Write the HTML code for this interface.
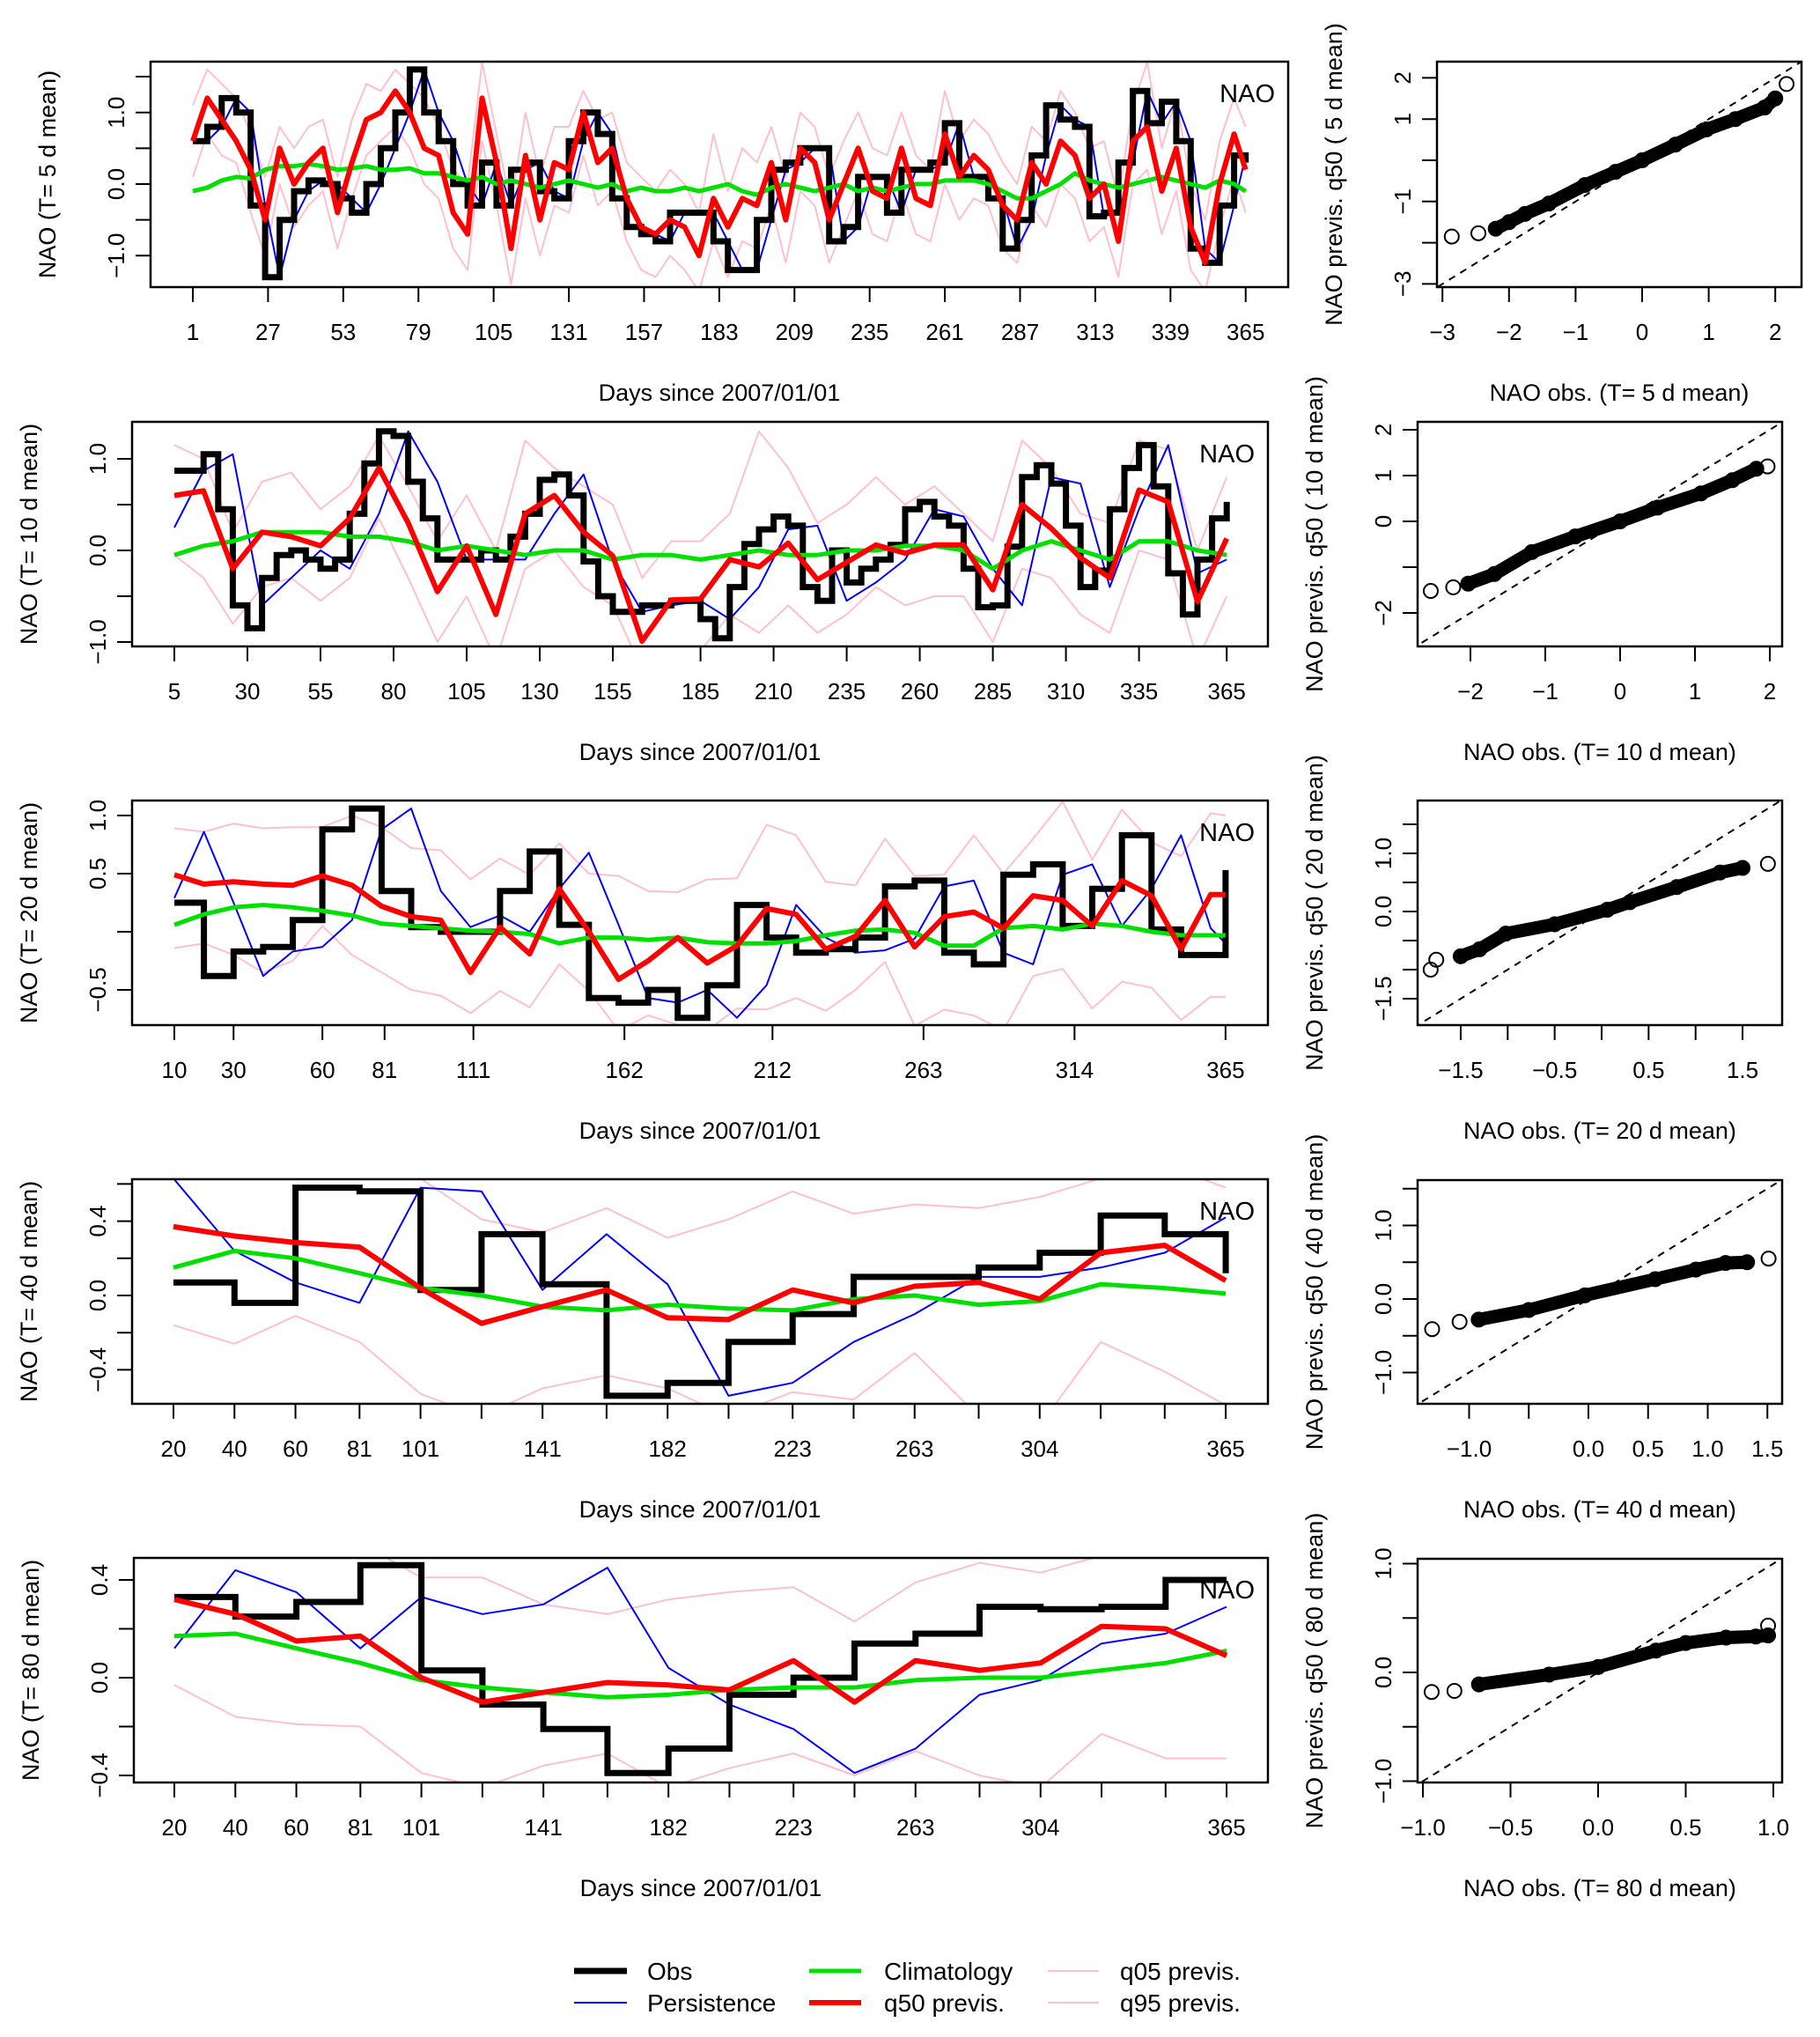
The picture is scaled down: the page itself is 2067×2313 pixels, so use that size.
<!DOCTYPE html>
<html><head><meta charset="utf-8"><style>
html,body{margin:0;padding:0;background:#fff;}
svg{display:block;font-family:"Liberation Sans",Arial,sans-serif;}
</style></head><body>
<svg id="fig" xmlns="http://www.w3.org/2000/svg" width="2067" height="2313" viewBox="0 0 2067 2313">
<rect width="2067" height="2313" fill="#fff"/>
<g>
<line x1="652" y1="2238" x2="712" y2="2238" stroke="#000" stroke-width="7"/>
<text x="735" y="2248" font-size="28">Obs</text>
<line x1="652" y1="2274" x2="712" y2="2274" stroke="#0000ff" stroke-width="2"/>
<text x="735" y="2284" font-size="28">Persistence</text>
<line x1="919" y1="2238" x2="978" y2="2238" stroke="#00e000" stroke-width="5"/>
<text x="1004" y="2248" font-size="28">Climatology</text>
<line x1="919" y1="2274" x2="978" y2="2274" stroke="#ff0000" stroke-width="6"/>
<text x="1004" y="2284" font-size="28">q50 previs.</text>
<line x1="1190" y1="2238" x2="1248" y2="2238" stroke="#ffc0cb" stroke-width="2"/>
<text x="1272" y="2248" font-size="28">q05 previs.</text>
<line x1="1190" y1="2274" x2="1248" y2="2274" stroke="#ffc0cb" stroke-width="2"/>
<text x="1272" y="2284" font-size="28">q95 previs.</text>
</g>
</svg>
<script>
// ---------- Panel 1 (T=5) ----------
const days1=[1,6,11,16,21,26,31,36,41,46,51,56,61,66,71,76,81,86,91,96,101,106,111,116,121,126,131,136,141,146,151,156,161,166,171,176,181,186,191,196,201,206,211,216,221,226,231,236,241,246,251,256,261,266,271,276,281,286,291,296,301,306,311,316,321,326,331,336,341,346,351,356,361,365];
const obs1=[0.6,0.8,1.2,1.0,-0.3,-1.3,-0.5,-0.1,0.05,0.0,-0.2,-0.4,0.0,0.5,1.0,1.6,1.0,0.6,0.0,-0.3,0.3,-0.3,0.2,0.3,-0.1,-0.2,0.6,1.0,0.7,-0.2,-0.6,-0.7,-0.8,-0.4,-0.4,-0.4,-0.8,-1.2,-1.2,-0.5,0.2,0.3,0.5,0.5,-0.8,-0.6,0.1,0.1,-0.4,0.2,0.2,0.3,0.85,0.1,0.1,-0.2,-0.9,-0.5,0.4,1.1,0.9,0.8,-0.45,-0.4,0.3,1.3,0.85,1.15,0.6,-0.9,-1.1,-0.3,0.4,0.3];
const pers1=[0.6,0.6,0.8,1.2,1.0,-0.3,-1.3,-0.5,-0.1,0.05,0.0,-0.2,-0.4,0.0,0.5,1.0,1.6,1.0,0.6,0.0,-0.3,0.3,-0.3,0.2,0.3,-0.1,-0.2,0.6,1.0,0.7,-0.2,-0.6,-0.7,-0.8,-0.4,-0.4,-0.4,-0.8,-1.2,-1.2,-0.5,0.2,0.3,0.5,0.5,-0.8,-0.6,0.1,0.1,-0.4,0.2,0.2,0.3,0.85,0.1,0.1,-0.2,-0.9,-0.5,0.4,1.1,0.9,0.8,-0.45,-0.4,0.3,1.3,0.85,1.15,0.6,-0.9,-1.1,-0.3,0.4];
const clim1=[-0.1,-0.05,0.05,0.1,0.08,0.2,0.25,0.25,0.28,0.25,0.2,0.22,0.25,0.2,0.2,0.22,0.15,0.15,0.1,0.05,0.1,0.0,0.05,0.0,-0.05,0.0,0.05,0.0,-0.05,0.0,-0.1,-0.05,-0.1,-0.1,-0.05,-0.1,-0.05,0.0,-0.1,-0.15,-0.05,0.0,-0.05,-0.1,-0.05,0.0,-0.1,-0.05,-0.1,-0.05,0.0,0.0,0.05,0.05,0.05,0.0,-0.1,-0.2,-0.2,-0.1,0.0,0.15,0.05,0.0,-0.05,0.0,0.05,0.1,0.05,0.0,-0.05,0.05,0.0,-0.1];
const q50_1=[0.6,1.2,0.9,0.6,0.2,-0.5,0.5,0.0,0.3,0.5,-0.4,0.3,0.9,1.0,1.3,1.0,0.5,0.4,-0.4,-0.7,1.2,0.3,-0.9,0.4,-0.5,0.3,0.2,1.0,0.3,0.5,-0.2,-0.6,-0.7,-0.5,-0.6,-1.0,-0.2,-0.6,-0.2,-0.3,0.3,-0.5,0.5,0.3,-0.5,0.0,0.5,-0.1,-0.2,0.5,-0.2,-0.3,0.7,0.1,0.4,0.2,-0.3,-0.5,0.3,0.0,0.6,0.4,-0.2,0.0,-0.8,0.6,0.8,-0.1,0.5,-0.6,-1.1,0.0,0.7,0.2];
const q95_1=[1.1,1.6,1.4,1.2,0.7,0.1,0.8,0.5,0.8,0.9,0.1,0.9,1.4,1.3,1.6,1.4,1.2,0.8,0.2,0.0,1.7,0.7,-0.3,1.0,0.1,0.8,0.8,1.3,0.9,1.0,0.3,0.1,-0.1,0.2,0.0,-0.4,0.7,-0.1,0.5,0.3,0.8,0.1,1.0,0.8,0.1,0.6,1.0,0.5,0.4,1.0,0.4,0.2,1.3,0.6,0.9,0.7,0.3,0.0,0.8,0.6,1.3,1.0,0.5,0.6,-0.2,1.1,1.7,0.5,1.2,0.0,-0.5,0.6,1.2,0.8];
const q05_1=[0.1,0.7,0.4,0.3,-0.4,-1.0,0.0,-0.6,-0.3,-0.1,-0.9,-0.2,0.4,0.6,0.8,0.5,0.0,-0.2,-0.9,-1.2,0.6,-0.3,-1.4,-0.2,-1.0,-0.3,-0.4,0.4,-0.3,-0.1,-0.8,-1.2,-1.3,-1.0,-1.2,-1.5,-0.8,-1.3,-0.8,-0.9,-0.3,-1.1,-0.1,-0.3,-1.1,-0.6,-0.1,-0.7,-0.8,-0.1,-0.7,-0.8,0.0,-0.5,-0.2,-0.3,-0.9,-1.1,-0.3,-0.6,0.0,-0.2,-0.8,-0.6,-1.3,0.0,0.2,-0.7,-0.1,-1.2,-1.5,-0.6,0.1,-0.4];
const xt1=[1,27,53,79,105,131,157,183,209,235,261,287,313,339,365];
// ---------- Panel 2 (T=10) ----------
const daysObs2=[5,10,15,20,25,30,35,40,45,50,55,60,65,70,75,80,85,90,95,100,105,110,115,120,125,130,135,140,145,150,155,160,165,170,175,180,185,190,195,200,205,210,215,220,225,230,235,240,245,250,255,260,265,270,275,280,285,290,295,300,305,310,315,320,325,330,335,340,345,350,355,360,365];
const obs2=[0.87,0.87,1.05,0.45,-0.6,-0.85,-0.3,-0.05,0.0,-0.1,-0.2,-0.1,0.4,0.95,1.3,1.25,0.75,0.35,-0.1,-0.1,-0.1,0.0,-0.1,0.15,0.4,0.77,0.83,0.6,-0.12,-0.5,-0.67,-0.67,-0.6,-0.6,-0.55,-0.55,-0.75,-0.96,-0.4,0.07,0.23,0.37,0.27,-0.4,-0.55,0.0,-0.35,-0.2,-0.1,0.06,0.45,0.53,0.37,0.27,-0.2,-0.62,-0.6,0.04,0.8,0.93,0.73,0.27,-0.4,-0.22,0.45,0.9,1.15,0.7,-0.25,-0.7,-0.1,0.35,0.53];
const days2=[5,15,25,35,45,55,65,75,85,95,105,115,125,135,145,155,165,175,185,195,205,215,225,235,245,255,265,275,285,295,305,315,325,335,345,355,365];
const pers2=[0.25,0.87,1.05,-0.6,-0.3,0.0,-0.2,0.4,1.3,0.75,-0.1,-0.1,-0.1,0.4,0.83,-0.12,-0.67,-0.6,-0.55,-0.75,-0.4,0.23,0.27,-0.55,-0.35,-0.1,0.45,0.37,-0.2,-0.6,0.8,0.73,-0.4,0.45,1.15,-0.25,-0.1];
const clim2=[-0.05,0.05,0.1,0.2,0.2,0.2,0.15,0.15,0.1,0.0,0.05,0.0,-0.05,0.0,0.0,-0.1,-0.05,-0.05,-0.1,-0.05,0.0,-0.05,-0.05,0.0,0.0,0.05,0.05,0.0,-0.2,0.0,0.1,0.0,-0.1,0.1,0.1,0.0,-0.05];
const q50_2=[0.6,0.65,-0.2,0.2,0.15,0.05,0.35,0.9,0.3,-0.45,0.05,-0.7,0.4,0.6,0.2,-0.06,-0.99,-0.54,-0.53,-0.1,-0.18,0.08,-0.32,-0.13,0.06,-0.03,0.06,0.06,-0.43,0.5,0.24,-0.08,-0.3,0.66,0.53,-0.56,0.13];
const q95_2=[1.15,1.0,0.2,0.75,0.85,0.45,0.7,1.25,0.7,0.1,0.6,0.0,1.2,0.9,0.7,0.5,-0.3,0.1,0.1,0.4,1.3,0.9,0.3,0.5,0.8,0.5,0.7,0.4,0.1,1.2,0.9,0.4,0.3,1.2,1.1,0.0,0.8];
const q05_2=[-0.05,-0.3,-0.8,-0.4,-0.3,-0.55,-0.3,0.35,-0.3,-1.0,-0.5,-1.2,-0.2,0.0,-0.4,-0.6,-1.3,-1.1,-1.1,-0.7,-0.9,-0.6,-0.9,-0.7,-0.4,-0.6,-0.5,-0.5,-1.0,-0.2,-0.3,-0.7,-0.9,0.0,-0.1,-1.2,-0.5];
const xt2=[5,30,55,80,105,130,155,185,210,235,260,285,310,335,365];
// ---------- Panel 3 (T=20) ----------
const days3=[10,20,30,40,50,60,70,80,90,100,110,120,130,140,150,160,170,180,190,200,210,220,230,240,250,260,270,280,290,300,310,320,330,340,350,360,365];
const obs3=[0.25,-0.38,-0.17,-0.13,0.1,0.88,1.06,0.35,0.04,0.0,0.0,0.35,0.69,0.06,-0.57,-0.61,-0.5,-0.74,-0.46,0.23,-0.05,-0.18,-0.15,-0.05,0.39,0.44,-0.18,-0.28,0.49,0.58,0.05,0.37,0.83,0.02,-0.2,-0.2,0.53];
const pers3=[0.29,0.86,0.25,-0.38,-0.17,-0.13,0.1,0.88,1.06,0.35,0.04,0.14,0.0,0.37,0.68,0.06,-0.57,-0.61,-0.5,-0.74,-0.46,0.23,-0.05,-0.18,-0.16,-0.06,0.39,0.44,-0.18,-0.28,0.49,0.58,0.05,0.37,0.83,0.03,-0.1];
const clim3=[0.06,0.15,0.21,0.23,0.21,0.18,0.14,0.07,0.05,0.03,0.01,0.0,-0.02,-0.1,-0.05,-0.05,-0.07,-0.05,-0.09,-0.1,-0.1,-0.08,-0.03,0.01,0.02,-0.01,-0.12,-0.12,0.03,0.05,0.02,0.07,0.05,0.0,-0.03,-0.03,-0.03];
const q50_3=[0.49,0.41,0.43,0.41,0.4,0.48,0.4,0.22,0.13,0.1,-0.35,0.04,-0.19,0.37,0.0,-0.41,-0.25,-0.05,-0.27,-0.12,0.2,0.15,-0.15,-0.04,0.27,-0.13,0.13,0.17,0.03,0.31,0.27,0.05,0.44,0.31,-0.15,0.32,0.32];
const q95_3=[0.89,0.86,0.93,0.89,0.9,0.9,1.0,0.9,0.72,0.7,0.45,0.63,0.49,0.76,0.5,0.48,0.35,0.34,0.45,0.46,0.92,0.83,0.43,0.4,0.8,0.48,0.49,0.83,0.5,0.8,1.12,0.62,1.05,0.77,0.65,1.02,1.0];
const q05_3=[-0.14,-0.1,-0.2,-0.35,-0.25,0.05,-0.2,-0.35,-0.5,-0.55,-0.7,-0.51,-0.65,-0.28,-0.51,-0.85,-0.72,-0.8,-0.85,-0.66,-0.67,-0.57,-0.68,-0.5,-0.26,-0.81,-0.67,-0.72,-0.85,-0.38,-0.32,-0.66,-0.43,-0.48,-0.76,-0.56,-0.56];
const xt3=[10,30,60,81,111,162,212,263,314,365];
// ---------- Panels 4,5 (T=40, T=80) ----------
const days45=[20,40,60,81,101,121,141,162,182,202,223,243,263,284,304,324,345,365];
const xt45=[20,40,60,81,101,141,182,223,263,304,365];
const obs4=[0.07,-0.04,0.58,0.56,0.03,0.33,0.06,-0.54,-0.47,-0.25,-0.1,0.1,0.1,0.15,0.23,0.43,0.33,0.12];
const pers4=[0.63,0.24,0.07,-0.04,0.58,0.56,0.03,0.33,0.06,-0.54,-0.47,-0.25,-0.1,0.1,0.1,0.15,0.23,0.42];
const clim4=[0.15,0.24,0.2,0.12,0.04,0.0,-0.06,-0.08,-0.05,-0.07,-0.08,-0.02,0.0,-0.05,-0.03,0.06,0.04,0.01];
const q50_4=[0.37,0.32,0.285,0.26,0.04,-0.15,-0.06,0.03,-0.12,-0.13,0.03,-0.04,0.05,0.07,-0.02,0.23,0.27,0.08];
const q95_4=[0.75,0.75,0.72,0.7,0.63,0.41,0.34,0.47,0.31,0.41,0.56,0.44,0.49,0.47,0.53,0.63,0.7,0.58];
const q05_4=[-0.16,-0.26,-0.11,-0.25,-0.53,-0.65,-0.5,-0.43,-0.5,-0.65,-0.52,-0.56,-0.31,-0.65,-0.7,-0.25,-0.41,-0.59];
const obs5=[0.33,0.25,0.31,0.46,0.03,-0.11,-0.21,-0.39,-0.29,-0.07,0.0,0.14,0.18,0.29,0.28,0.29,0.4,0.4];
const pers5=[0.12,0.44,0.35,0.12,0.33,0.26,0.3,0.45,0.04,-0.11,-0.21,-0.39,-0.29,-0.07,-0.01,0.14,0.18,0.29];
const clim5=[0.17,0.18,0.12,0.06,-0.01,-0.04,-0.06,-0.08,-0.07,-0.05,-0.04,-0.04,-0.01,0.0,0.0,0.03,0.06,0.11];
const q50_5=[0.32,0.26,0.15,0.17,0.0,-0.1,-0.06,-0.02,-0.03,-0.05,0.07,-0.1,0.07,0.03,0.06,0.21,0.2,0.09];
const q95_5=[0.55,0.55,0.55,0.55,0.41,0.41,0.3,0.26,0.32,0.35,0.37,0.23,0.39,0.47,0.43,0.5,0.55,0.55];
const q05_5=[-0.03,-0.16,-0.19,-0.2,-0.39,-0.45,-0.36,-0.31,-0.45,-0.37,-0.31,-0.4,-0.3,-0.4,-0.45,-0.23,-0.33,-0.33];
// ---------- Scatter (QQ) panels ----------
const sObs1=[-2.86,-2.46,-2.2,-2.0,-1.76,-1.4,-0.86,-0.4,0,0.5,0.97,1.4,1.84,2.0,2.17];
const sPred1=[-1.85,-1.77,-1.66,-1.5,-1.3,-1.05,-0.6,-0.28,0,0.38,0.75,1.0,1.28,1.5,1.85];
const sObs2=[-2.53,-2.23,-2.03,-1.68,-1.18,-0.6,0,0.5,1.08,1.5,1.82,1.97];
const sPred2=[-1.52,-1.44,-1.36,-1.15,-0.67,-0.33,0,0.3,0.61,0.9,1.15,1.2];
const sObs3=[-1.82,-1.76,-1.5,-1.3,-1.02,-0.5,0.06,0.3,0.8,1.26,1.5,1.77];
const sPred3=[-1.0,-0.83,-0.77,-0.65,-0.38,-0.22,0.03,0.16,0.42,0.67,0.75,0.82];
const sObs4=[-1.31,-1.08,-0.92,-0.5,-0.03,0.56,0.9,1.15,1.33,1.51];
const sPred4=[-0.41,-0.31,-0.28,-0.15,0.05,0.27,0.4,0.49,0.5,0.55];
const sObs5=[-0.95,-0.82,-0.68,-0.28,0.0,0.33,0.5,0.73,0.9,0.97,0.97];
const sPred5=[-0.18,-0.17,-0.11,-0.02,0.05,0.2,0.27,0.32,0.33,0.34,0.43];

const NS='http://www.w3.org/2000/svg';
const svg=document.getElementById('fig');
function mk(tag,attrs,parent){const e=document.createElementNS(NS,tag);for(const k in attrs)e.setAttribute(k,attrs[k]);(parent||svg).appendChild(e);return e;}

const mains=[
 {T:5,box:[171,1463,70,326],d0:1,x0:219,kd:3.285,y0:209,ky:81.3,yt:[-1,-0.5,0,0.5,1,1.5],yl:{'-1':'−1.0','0':'0.0','1':'1.0'},xt:xt1,xtAll:xt1,
  series:{obsD:days1,obs:obs1,d:days1,pers:pers1,clim:clim1,q50:q50_1,q95:q95_1,q05:q05_1}},
 {T:10,box:[150,1440,479,734],d0:5,x0:198,kd:3.32,y0:625,ky:104,yt:[-1,-0.5,0,0.5,1],yl:{'-1':'−1.0','0':'0.0','1':'1.0'},xt:xt2,xtAll:xt2,
  series:{obsD:daysObs2,obs:obs2,d:days2,pers:pers2,clim:clim2,q50:q50_2,q95:q95_2,q05:q05_2}},
 {T:20,box:[150,1440,909,1164],d0:10,x0:198,kd:3.363,y0:1058,ky:132,yt:[-0.5,0,0.5,1],yl:{'-0.5':'−0.5','0.5':'0.5','1':'1.0'},xt:xt3,xtAll:xt3,
  series:{obsD:days3,obs:obs3,d:days3,pers:pers3,clim:clim3,q50:q50_3,q95:q95_3,q05:q05_3}},
 {T:40,box:[150,1440,1339,1594],d0:20,x0:197,kd:3.464,y0:1471,ky:211,yt:[-0.4,-0.2,0,0.2,0.4,0.6],yl:{'-0.4':'−0.4','0':'0.0','0.4':'0.4'},xt:xt45,xtAll:days45,
  series:{obsD:days45,obs:obs4,d:days45,pers:pers4,clim:clim4,q50:q50_4,q95:q95_4,q05:q05_4}},
 {T:80,box:[152,1440,1769,2024],d0:20,x0:198,kd:3.464,y0:1905,ky:277.5,yt:[-0.4,-0.2,0,0.2,0.4],yl:{'-0.4':'−0.4','0':'0.0','0.4':'0.4'},xt:xt45,xtAll:days45,
  series:{obsD:days45,obs:obs5,d:days45,pers:pers5,clim:clim5,q50:q50_5,q95:q95_5,q05:q05_5}}
];
const scats=[
 {box:[1632,2046,70,326],x0:1865,kx:75.6,y0:182,ky:46.8,xt:[-3,-2,-1,0,1,2],xl:[-3,-2,-1,0,1,2],yt:[-3,-2,-1,0,1,2],yl:[-3,-1,1,2],dec:0,ox:sObs1,oy:sPred1},
 {box:[1610,2024,479,734],x0:1840,kx:85,y0:592,ky:52,xt:[-2,-1,0,1,2],xl:[-2,-1,0,1,2],yt:[-2,-1,0,1,2],yl:[-2,0,1,2],dec:0,ox:sObs2,oy:sPred2},
 {box:[1610,2024,909,1164],x0:1819,kx:106.7,y0:1035,ky:66,xt:[-1.5,-1,-0.5,0,0.5,1,1.5],xl:[-1.5,-0.5,0.5,1.5],yt:[-1.5,-1,-0.5,0,0.5,1,1.5],yl:[-1.5,0,1],dec:1,ox:sObs3,oy:sPred3},
 {box:[1610,2024,1340,1594],x0:1804,kx:135.5,y0:1475,ky:83.5,xt:[-1,-0.5,0,0.5,1,1.5],xl:[-1,0,0.5,1,1.5],yt:[-1,-0.5,0,0.5,1,1.5],yl:[-1,0,1],dec:1,ox:sObs4,oy:sPred4},
 {box:[1610,2024,1770,2024],x0:1815,kx:199,y0:1899,ky:123.5,xt:[-1,-0.5,0,0.5,1],xl:[-1,-0.5,0,0.5,1],yt:[-1,-0.5,0,0.5,1],yl:[-1,0,1],dec:1,ox:sObs5,oy:sPred5}
];
function fmt(v,dec){return (v<0?'−':'')+Math.abs(v).toFixed(dec);}

mains.forEach((p,i)=>{
  const [L,R,T,B]=p.box;
  const X=d=>p.x0+(d-p.d0)*p.kd, Y=v=>p.y0-v*p.ky;
  const g=mk('g',{});
  
  
  const cid='clipM'+i;
  const cp=mk('clipPath',{id:cid},g); mk('rect',{x:L,y:T,width:R-L,height:B-T},cp);
  const plot=mk('g',{'clip-path':'url(#'+cid+')'},g);
  const s=p.series;
  function line(ds,vs,col,w,name){
    const n=Math.min(ds.length,vs.length);let d='';
    for(let k=0;k<n;k++)d+=(k?'L':'M')+X(ds[k]).toFixed(1)+','+Y(vs[k]).toFixed(1);
    const e=mk('path',{d:d,fill:'none',stroke:col,'stroke-width':w,'stroke-linejoin':'round'},plot);
    
    
  }
  line(s.d,s.q05,'#ffc0cb',2,'q05-line');
  line(s.d,s.q95,'#ffc0cb',2,'q95-line');
  line(s.d,s.pers,'#0000ff',2,'persistence-line');
  // obs step
  {const n=Math.min(s.obsD.length,s.obs.length);let d='M'+X(s.obsD[0]).toFixed(1)+','+Y(s.obs[0]).toFixed(1);
   for(let k=1;k<n;k++)d+='H'+X(s.obsD[k]).toFixed(1)+'V'+Y(s.obs[k]).toFixed(1);
   const e=mk('path',{d:d,fill:'none',stroke:'#000','stroke-width':7,'stroke-linejoin':'miter'},plot);
   
   }
  line(s.d,s.clim,'#00e000',5,'climatology-line');
  line(s.d,s.q50,'#ff0000',6,'q50-line');
  const fr=mk('rect',{x:L,y:T,width:R-L,height:B-T,fill:'none',stroke:'#000','stroke-width':2.5},g);
  
  
  // x ticks
  p.xtAll.forEach(d=>{mk('line',{x1:X(d),x2:X(d),y1:B,y2:B+17,stroke:'#000','stroke-width':2},g);});
  p.xt.forEach(d=>{const t=mk('text',{x:X(d),y:B+60,'font-size':26,'text-anchor':'middle'},g);t.textContent=d;
    
    });
  mk('line',{x1:X(p.xtAll[0]),x2:X(p.xtAll[p.xtAll.length-1]),y1:B,y2:B,stroke:'#000','stroke-width':2},g);
  // y ticks
  p.yt.forEach(v=>{mk('line',{x1:L-17,x2:L,y1:Y(v),y2:Y(v),stroke:'#000','stroke-width':2},g);
    const key=String(v);if(p.yl[key]!==undefined){const t=mk('text',{x:0,y:0,'font-size':26,'text-anchor':'middle',transform:'translate('+(L-30)+','+Y(v)+') rotate(-90)'},g);t.textContent=p.yl[key];
    
    }});
  const yt=mk('text',{x:0,y:0,'font-size':27,'text-anchor':'middle',transform:'translate('+(L-108)+','+((T+B)/2)+') rotate(-90)'},g);
  yt.textContent='NAO (T= '+p.T+' d mean)';
  
  
  const xt=mk('text',{x:(L+R)/2,y:B+129,'font-size':27,'text-anchor':'middle'},g);
  xt.textContent='Days since 2007/01/01';
  
  
  const nt=mk('text',{x:R-15,y:T+46,'font-size':29,'text-anchor':'end'},g);
  nt.textContent='NAO';
  
  
});

scats.forEach((p,i)=>{
  const [L,R,T,B]=p.box;
  const X=v=>p.x0+v*p.kx, Y=v=>p.y0-v*p.ky;
  const g=mk('g',{});
  
  
  const cid='clipS'+i;
  const cp=mk('clipPath',{id:cid},g); mk('rect',{x:L,y:T,width:R-L,height:B-T},cp);
  const plot=mk('g',{'clip-path':'url(#'+cid+')'},g);
  const vmin=(L-p.x0)/p.kx-1, vmax=(R-p.x0)/p.kx+1;
  const dl=mk('line',{x1:X(vmin),y1:Y(vmin),x2:X(vmax),y2:Y(vmax),stroke:'#000','stroke-width':2,'stroke-dasharray':'8,7'},plot);
  
  
  const n=Math.min(p.ox.length,p.oy.length);
  let d='';for(let k=2;k<n-1;k++)d+=(k>2?'L':'M')+X(p.ox[k]).toFixed(1)+','+Y(p.oy[k]).toFixed(1);
  const band=mk('path',{d:d,fill:'none',stroke:'#000','stroke-width':15,'stroke-linecap':'round','stroke-linejoin':'round'},plot);
  
  
  for(let k=0;k<n;k++){const c=mk('circle',{cx:X(p.ox[k]),cy:Y(p.oy[k]),r:8,fill:'none',stroke:'#000','stroke-width':2},plot);
    
    }
  const fr=mk('rect',{x:L,y:T,width:R-L,height:B-T,fill:'none',stroke:'#000','stroke-width':2.5},g);
  
  
  p.xt.forEach(v=>{mk('line',{x1:X(v),x2:X(v),y1:B,y2:B+17,stroke:'#000','stroke-width':2},g);});
  mk('line',{x1:X(p.xt[0]),x2:X(p.xt[p.xt.length-1]),y1:B,y2:B,stroke:'#000','stroke-width':2},g);
  p.xl.forEach(v=>{const t=mk('text',{x:X(v),y:B+60,'font-size':26,'text-anchor':'middle'},g);t.textContent=fmt(v,p.dec);
    
    });
  p.yt.forEach(v=>{mk('line',{x1:L-17,x2:L,y1:Y(v),y2:Y(v),stroke:'#000','stroke-width':2},g);});
  mk('line',{x1:L,x2:L,y1:Y(p.yt[0]),y2:Y(p.yt[p.yt.length-1]),stroke:'#000','stroke-width':2},g);
  p.yl.forEach(v=>{const t=mk('text',{x:0,y:0,'font-size':26,'text-anchor':'middle',transform:'translate('+(L-30)+','+Y(v)+') rotate(-90)'},g);t.textContent=fmt(v,p.dec);
    
    });
  const yt=mk('text',{x:0,y:0,'font-size':27,'text-anchor':'middle',transform:'translate('+(L-108)+','+((T+B)/2)+') rotate(-90)'},g);
  yt.textContent='NAO previs. q50 ( '+mains[i].T+' d mean)';
  
  
  const xt=mk('text',{x:(L+R)/2,y:B+129,'font-size':27,'text-anchor':'middle'},g);
  xt.textContent='NAO obs. (T= '+mains[i].T+' d mean)';
  
  
});
</script>
</body></html>
